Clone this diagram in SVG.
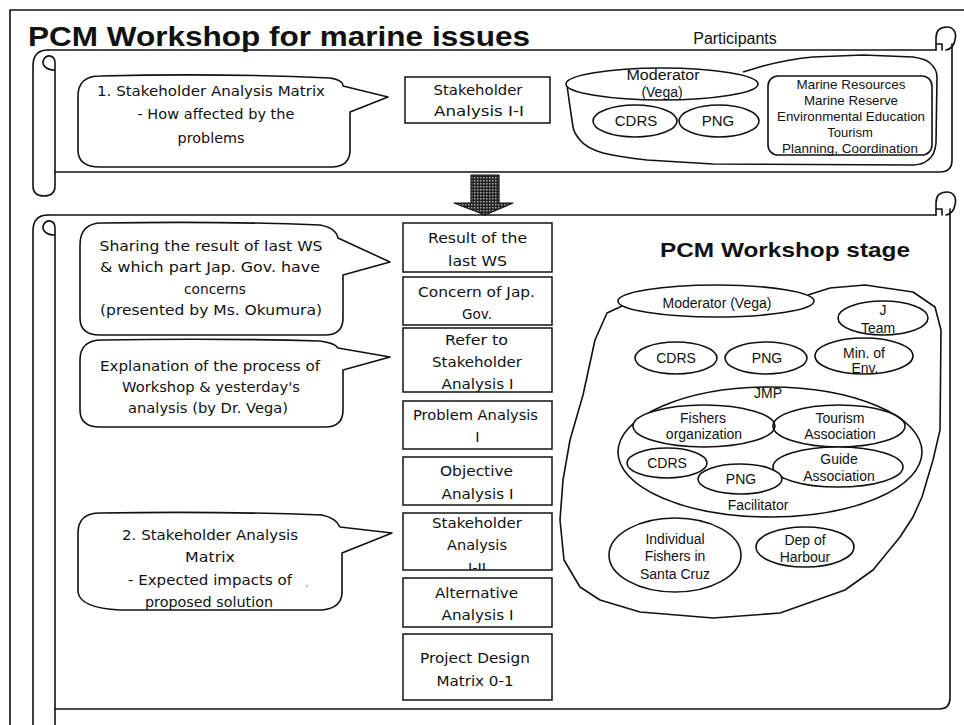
<svg xmlns="http://www.w3.org/2000/svg" width="964" height="725" viewBox="0 0 964 725">
<style>
.ln{fill:none;stroke:#111;stroke-width:1.6;stroke-linejoin:round;stroke-linecap:round}
.sh{fill:#fff;stroke:#111;stroke-width:1.6;stroke-linejoin:round}
.box{fill:#fff;stroke:#111;stroke-width:1.5}
.hw{font-family:"Comic Sans MS","DejaVu Sans",sans-serif;font-size:14.5px;fill:#111;text-anchor:middle}
.ar{font-family:"Liberation Sans",Arial,sans-serif;font-size:14px;fill:#111;text-anchor:middle}
.sm{font-size:13px}
.md{font-size:15px}
.tt{font-family:"Liberation Sans",Arial,sans-serif;font-weight:bold;fill:#111}
</style>
<defs>
<pattern id="dots" width="3" height="3" patternUnits="userSpaceOnUse"><rect width="3" height="3" fill="#222"/><rect width="1.5" height="1.5" fill="#aaa"/></pattern>
<clipPath id="c6"><rect x="403" y="513" width="149" height="57"/></clipPath>
</defs>
<rect width="964" height="725" fill="#fff"/>

<g id="frame">
<path class="ln" d="M10 725 L10 10 L964 10"/>
</g>

<g id="title">
<text class="tt" x="28" y="46" font-size="28" textLength="502" lengthAdjust="spacingAndGlyphs">PCM Workshop for marine issues</text>
</g>

<g id="scroll-top">
<path class="ln" d="M48 50 L936 50"/>
<path class="ln" d="M48 50 C38 50 33 56 33 66 L33 186 Q33 196 44 196 Q55 196 55 186 L55 63 C55 55 47 54 44 59 C41 64 45 70 55 70"/>
<path class="ln" d="M952 44 L952 160 Q952 172 940 172 L55 172"/>
<path class="ln" d="M936 50 L936 38 C936 30 941 27 947 27 C953 27 957 32 955 40 C954 46 951 49 946 50 M936 44 L942 44 L942 50"/>
</g>

<g id="participants-label">
<text class="ar" x="735" y="44" style="font-size:16px">Participants</text>
</g>

<g id="callout-1">
<path class="sh" d="M100 76 Q220 73 330 78 Q343 80 343 86 L388 97 L350 112 L350 150 Q350 166 333 167 L100 167 Q78 167 78 150 L78 96 Q78 76 100 76 Z"/>
<text class="hw" x="211" y="96" textLength="228" lengthAdjust="spacingAndGlyphs">1. Stakeholder Analysis Matrix</text>
<text class="hw" x="216" y="119" textLength="157" lengthAdjust="spacingAndGlyphs">- How affected by the</text>
<text class="hw" x="211" y="143" textLength="67" lengthAdjust="spacingAndGlyphs">problems</text>
</g>

<g id="box-sa-1-1">
<rect class="box" x="405" y="77" width="145" height="46"/>
<text class="hw" x="478" y="95" textLength="89" lengthAdjust="spacingAndGlyphs">Stakeholder</text>
<text class="hw" x="479" y="116" textLength="90" lengthAdjust="spacingAndGlyphs">Analysis I-I</text>
</g>

<g id="participants">
<path class="sh" d="M743 72 L763 66 Q790 59 813 57 L863 55 L913 57 Q926 59 930 63 Q937 69 937 77 L936 143 Q935 155 928 160 Q922 165 913 165 L713 164 L647 160 Q620 157 603 153 Q586 148 580 140 Q574 133 573 127 L569 100 L567 85"/>
<ellipse class="sh" cx="662" cy="84" rx="96" ry="16"/>
<text class="ar" x="663" y="80" textLength="73" lengthAdjust="spacingAndGlyphs">Moderator</text>
<text class="ar" x="662" y="97">(Vega)</text>
<ellipse class="sh" cx="635" cy="121" rx="42" ry="16"/>
<text class="ar md" x="636" y="126">CDRS</text>
<ellipse class="sh" cx="719" cy="121" rx="40" ry="16"/>
<text class="ar md" x="718" y="126">PNG</text>
<rect class="sh" x="768" y="76" width="164" height="79" rx="10"/>
<text class="ar sm" x="851" y="89" textLength="109" lengthAdjust="spacingAndGlyphs">Marine Resources</text>
<text class="ar sm" x="851" y="105" textLength="94" lengthAdjust="spacingAndGlyphs">Marine Reserve</text>
<text class="ar sm" x="851" y="121" textLength="148" lengthAdjust="spacingAndGlyphs">Environmental Education</text>
<text class="ar sm" x="850" y="137">Tourism</text>
<text class="ar sm" x="850" y="153" textLength="136" lengthAdjust="spacingAndGlyphs">Planning, Coordination</text>
</g>

<g id="connectors">
<path d="M471 175 L499 175 L499 203 L513 203 L485 215 L454 203 L471 203 Z" fill="url(#dots)" stroke="#111" stroke-width="1.2" stroke-linejoin="round"/>
</g>

<g id="scroll-bottom">
<path class="ln" d="M48 215 L936 215"/>
<path class="ln" d="M48 215 C38 215 33 221 33 231 L33 728 M55 728 L55 228 C55 220 47 219 44 224 C41 229 45 235 55 235"/>
<path class="ln" d="M950 209 L950 698 Q950 709 939 709 L55 709"/>
<path class="ln" d="M936 215 L936 203 C936 195 941 192 947 192 C953 192 957 197 955 205 C954 211 951 214 946 215 M936 209 L942 209 L942 215"/>
</g>

<g id="callout-a">
<path class="sh" d="M102 223 Q220 221 320 225 Q336 228 338 238 L390 262 L343 275 L343 318 Q343 335 325 335 L100 335 Q80 335 80 318 L80 245 Q80 223 102 223 Z"/>
<text class="hw" x="211" y="251" textLength="223" lengthAdjust="spacingAndGlyphs">Sharing the result of last WS</text>
<text class="hw" x="210" y="272" textLength="220" lengthAdjust="spacingAndGlyphs">&amp; which part Jap. Gov. have</text>
<text class="hw" x="215" y="294" textLength="62" lengthAdjust="spacingAndGlyphs">concerns</text>
<text class="hw" x="211" y="315" textLength="222" lengthAdjust="spacingAndGlyphs">(presented by Ms. Okumura)</text>
</g>

<g id="callout-b">
<path class="sh" d="M102 340 Q220 338 320 341 Q335 343 338 348 L390 357 L343 370 L343 410 Q343 427 325 427 L100 427 Q80 427 80 410 L80 360 Q80 340 102 340 Z"/>
<text class="hw" x="210" y="371" textLength="220" lengthAdjust="spacingAndGlyphs">Explanation of the process of</text>
<text class="hw" x="211" y="392" textLength="178" lengthAdjust="spacingAndGlyphs">Workshop &amp; yesterday's</text>
<text class="hw" x="208" y="413" textLength="160" lengthAdjust="spacingAndGlyphs">analysis (by Dr. Vega)</text>
</g>

<g id="callout-c">
<path class="sh" d="M100 513 Q220 511 322 515 Q336 518 340 527 L392 533 L342 553 L342 592 Q342 608 322 610 L120 610 Q80 608 78 592 L78 533 Q78 513 100 513 Z"/>
<text class="hw" x="210" y="540" textLength="176" lengthAdjust="spacingAndGlyphs">2. Stakeholder Analysis</text>
<text class="hw" x="210" y="562" textLength="50" lengthAdjust="spacingAndGlyphs">Matrix</text>
<text class="hw" x="210" y="585" textLength="164" lengthAdjust="spacingAndGlyphs">- Expected impacts of</text>
<text class="hw" x="209" y="607" textLength="128" lengthAdjust="spacingAndGlyphs">proposed solution</text>
<circle cx="307" cy="586" r="0.8" fill="#666"/>
</g>

<g id="box-result">
<rect class="box" x="403" y="223" width="149" height="49"/>
<text class="hw" x="477.5" y="243" textLength="99" lengthAdjust="spacingAndGlyphs">Result of the</text>
<text class="hw" x="477.5" y="266" textLength="59" lengthAdjust="spacingAndGlyphs">last WS</text>
</g>
<g id="box-concern">
<rect class="box" x="403" y="277" width="149" height="48"/>
<text class="hw" x="476.5" y="297" textLength="117" lengthAdjust="spacingAndGlyphs">Concern of Jap.</text>
<text class="hw" x="477" y="319" textLength="30" lengthAdjust="spacingAndGlyphs">Gov.</text>
</g>
<g id="box-refer">
<rect class="box" x="403" y="328" width="149" height="64"/>
<text class="hw" x="476.5" y="345" textLength="63" lengthAdjust="spacingAndGlyphs">Refer to</text>
<text class="hw" x="477" y="367" textLength="90" lengthAdjust="spacingAndGlyphs">Stakeholder</text>
<text class="hw" x="477.5" y="389" textLength="72" lengthAdjust="spacingAndGlyphs">Analysis I</text>
</g>
<g id="box-problem">
<rect class="box" x="403" y="401" width="149" height="48"/>
<text class="hw" x="475.5" y="420" textLength="125" lengthAdjust="spacingAndGlyphs">Problem Analysis</text>
<text class="hw" x="477.5" y="442">I</text>
</g>
<g id="box-objective">
<rect class="box" x="403" y="457" width="149" height="48"/>
<text class="hw" x="476.5" y="476" textLength="73" lengthAdjust="spacingAndGlyphs">Objective</text>
<text class="hw" x="477.5" y="499" textLength="72" lengthAdjust="spacingAndGlyphs">Analysis I</text>
</g>
<g id="box-sa-1-2">
<rect class="box" x="403" y="513" width="149" height="57"/>
<g clip-path="url(#c6)">
<text class="hw" x="477" y="528" textLength="90" lengthAdjust="spacingAndGlyphs">Stakeholder</text>
<text class="hw" x="477" y="550" textLength="60" lengthAdjust="spacingAndGlyphs">Analysis</text>
<text class="hw" x="477" y="573">I-II</text>
</g>
</g>
<g id="box-alternative">
<rect class="box" x="403" y="578" width="149" height="49"/>
<text class="hw" x="476.5" y="598" textLength="83" lengthAdjust="spacingAndGlyphs">Alternative</text>
<text class="hw" x="477.5" y="620" textLength="72" lengthAdjust="spacingAndGlyphs">Analysis I</text>
</g>
<g id="box-pdm">
<rect class="box" x="403" y="634" width="149" height="66"/>
<text class="hw" x="475" y="663" textLength="110" lengthAdjust="spacingAndGlyphs">Project Design</text>
<text class="hw" x="475" y="686" textLength="77" lengthAdjust="spacingAndGlyphs">Matrix 0-1</text>
</g>

<g id="stage-title">
<text class="tt" x="660" y="257" font-size="21" textLength="250" lengthAdjust="spacingAndGlyphs">PCM Workshop stage</text>
</g>

<g id="stage">
<path class="sh" d="M808 295 L830 288 L865 285 L913 292 L935 307 L941 330 L940 430 L933 460 L922 497 L913 517 L900 537 L873 570 L845 590 L780 613 L713 618 L640 612 L600 600 L580 587 L564 560 L560 520 L563 480 L570 440 L583 395 L595 340 L607 313 L622 306"/>
<ellipse class="sh" cx="716" cy="301" rx="98" ry="16"/>
<text class="ar" x="717" y="308">Moderator (Vega)</text>
<ellipse class="sh" cx="883" cy="318" rx="45" ry="17"/>
<text class="ar" x="883" y="315">J</text>
<text class="ar" x="878" y="333">Team</text>
<ellipse class="sh" cx="676" cy="358" rx="41" ry="16"/>
<text class="ar" x="676" y="363">CDRS</text>
<ellipse class="sh" cx="766" cy="358" rx="41" ry="16"/>
<text class="ar" x="767" y="363">PNG</text>
<ellipse class="sh" cx="864" cy="356" rx="49" ry="18"/>
<text class="ar" x="864" y="358">Min. of</text>
<text class="ar" x="865" y="373">Env.</text>
</g>

<g id="jmp">
<ellipse class="sh" cx="770" cy="452" rx="152" ry="65"/>
<text class="ar" x="768" y="398">JMP</text>
<text class="ar" x="758" y="510">Facilitator</text>
</g>
<g id="fishers-org">
<ellipse class="sh" cx="704" cy="426" rx="71" ry="21"/>
<text class="ar" x="703" y="423">Fishers</text>
<text class="ar" x="704" y="439">organization</text>
</g>
<g id="tourism-assoc">
<ellipse class="sh" cx="839" cy="426" rx="66" ry="21" fill-opacity="0"/>
<text class="ar" x="840" y="423">Tourism</text>
<text class="ar" x="840" y="439">Association</text>
</g>
<g id="jmp-cdrs">
<ellipse class="sh" cx="667" cy="463" rx="40" ry="15"/>
<text class="ar" x="667" y="468">CDRS</text>
</g>
<g id="guide-assoc">
<ellipse class="sh" cx="838" cy="467" rx="65" ry="20"/>
<text class="ar" x="839" y="464">Guide</text>
<text class="ar" x="839" y="481">Association</text>
</g>
<g id="jmp-png">
<ellipse class="sh" cx="740" cy="479" rx="42" ry="15"/>
<text class="ar" x="741" y="484">PNG</text>
</g>
<g id="individual-fishers">
<ellipse class="sh" cx="675" cy="555" rx="66" ry="37"/>
<text class="ar" x="675" y="544">Individual</text>
<text class="ar" x="675" y="561">Fishers in</text>
<text class="ar" x="675" y="579">Santa Cruz</text>
</g>
<g id="dep-harbour">
<ellipse class="sh" cx="805" cy="547" rx="49" ry="20"/>
<text class="ar" x="805" y="545">Dep of</text>
<text class="ar" x="805" y="562">Harbour</text>
</g>
</svg>
